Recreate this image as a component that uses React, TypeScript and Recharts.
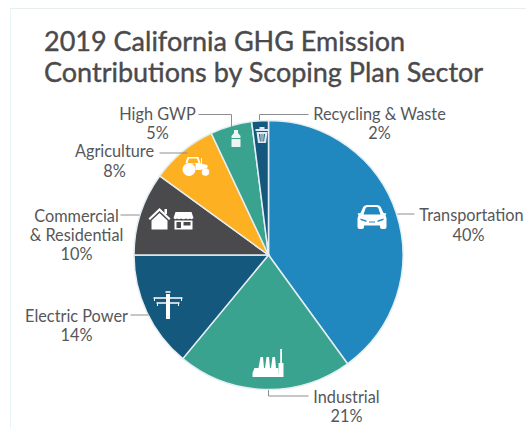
import { Pie, PieChart, Cell } from "recharts";

const sectors = [
	"Transportation",
	"Industrial",
	"Electric Power",
	"Commercial & Residential",
	"Agriculture",
	"High GWP",
	"Recycling & Waste",
];
const shares = [40, 21, 14, 10, 8, 5, 2];
const colors = [
	"#2187bf",
	"#3aa38f",
	"#14587d",
	"#4a4a4c",
	"#fdb022",
	"#3aa38f",
	"#14587d",
];
const titleLines = [
	"2019 California GHG Emission",
	"Contributions by Scoping Plan Sector",
];

const data = sectors.map((name, i) => ({ name, value: shares[i] }));

const TEXT = "#56575a";
const LEADER = "#8c8e90";

// label placement per sector, offsets from the pie centre
const callouts: Record<
	string,
	{ lines: [string, number, number][]; leader: string; pct: [number, number] }
> = {
	Transportation: {
		lines: [["Transportation", 203, -34]],
		pct: [200, -14],
		leader: "M129 -41H146",
	},
	Industrial: {
		lines: [["Industrial", 78, 148]],
		pct: [78, 167],
		leader: "M0 135V141H40",
	},
	"Electric Power": {
		lines: [["Electric Power", -192, 67]],
		pct: [-192, 86],
		leader: "M-138 60H-120",
	},
	"Commercial & Residential": {
		lines: [
			["Commercial", -192, -33],
			["& Residential", -192, -14],
		],
		pct: [-192, 5],
		leader: "M-148 -40H-129",
	},
	Agriculture: {
		lines: [["Agriculture", -154, -98]],
		pct: [-154, -78],
		leader: "M-109 -102H-81",
	},
	"High GWP": {
		lines: [["High GWP", -111, -135]],
		pct: [-111, -116],
		leader: "M-70 -140.500H-37V-128",
	},
	"Recycling & Waste": {
		lines: [["Recycling & Waste", 111, -135]],
		pct: [111, -116],
		leader: "M-9 -135V-140.500H40",
	},
};

function Car() {
	return (
		<g transform="translate(87 -50)" fill="#fff">
			<path
				fillRule="evenodd"
				d="M5 8 7.500 2.500Q8.500 0 12 0H21Q24.500 0 25.500 2.500L28 8 31 8.500 30 10.500 31 13V22Q31 24 29 24H26.500Q24.500 24 24.500 22V20.500H8.500V22Q8.500 24 6.500 24H4Q2 24 2 22V13L3 10.500 2 8.500ZM8 9.500H25L23 3.500Q22.500 2 21 2H12Q10.500 2 10 3.500ZM5 13.500V15L11 17V15.500ZM28 13.500 22 15.500V17L28 15ZM13.500 16.500V17.500H19.500V16.500Z"
			/>
		</g>
	);
}

function Trash() {
	return (
		<g transform="translate(-13 -128)" fill="#dfe9ef">
			<rect x="0" y="2" width="13" height="2" />
			<rect x="4" y="0" width="5" height="2" />
			<path d="M1 5H12L10.500 16H2.500ZM3.500 7 4.500 14.500H5.200L4.800 7ZM6.100 7V14.500H6.900V7ZM8.200 7 7.800 14.500H8.500L9.500 7Z" fillRule="evenodd" />
		</g>
	);
}

function Bottle() {
	return (
		<g transform="translate(-37 -125)" fill="#eef5f3">
			<path d="M2.500 0H6.500V3L9 6V8H0V6L2.500 3Z" />
			<rect x="0" y="9" width="9" height="8" rx="0.500" />
		</g>
	);
}

function Tractor() {
	return (
		<g transform="translate(-86 -98)" fill="#fff">
			<circle cx="6.500" cy="12.500" r="6.500" />
			<circle cx="23" cy="15" r="3.800" />
			<path d="M3 5.500 5 0H16L18 6.500 25 8V10.500L18 13H13V6.500H4.500Z" fillRule="evenodd" />
			<path d="M6.500 1.500H14.500L16 6H5Z" fill="#fdb022" />
			<rect x="18.500" y="1" width="1" height="6" />
		</g>
	);
}

function HouseAndStore() {
	return (
		<g fill="#fff">
			<g transform="translate(-120 -47)">
				<path d="M11 0 22 10.500 20.500 12 11 3 1.500 12 0 10.500ZM3 12.500 11 5 19 12.500V21.500H3Z" />
				<rect x="16" y="1" width="2.500" height="5" />
			</g>
			<g transform="translate(-95 -43)">
				<path d="M2 0H18L20 6Q18.500 8 16.500 6.500 14.500 8 12.500 6.500 10 8 7.500 6.500 5.500 8 3.500 6.500 1.500 8 0 6Z" />
				<path
					fillRule="evenodd"
					d="M1 8.500H19V17.500H1ZM3 10V16H7.500V10ZM10 10V13.500H17V10Z"
				/>
			</g>
		</g>
	);
}

function Pylon() {
	return (
		<g transform="translate(-115 36)" stroke="#fff" fill="none">
			<path d="M14.500 3V28" strokeWidth="4" />
			<path d="M0 7H29M3 12H26M12 1H17" strokeWidth="1.300" />
			<path d="M1 7V10M28 7V10M4 12V15M25 12V15" strokeWidth="1" />
		</g>
	);
}

function Factory() {
	return (
		<g transform="translate(-16 94)" fill="#fff">
			<path d="M0 28V24L2 19H6L8 8H10.500L11.500 19H12.500L14 8H16.500L17.500 19H18.500L20 8H22.500L23.500 19H26V25H31V28Z" />
			<rect x="26" y="14" width="5" height="11" />
			<rect x="27.700" y="0" width="1.800" height="15" />
		</g>
	);
}

const icons: Record<string, () => React.ReactNode> = {
	Transportation: Car,
	Industrial: Factory,
	"Electric Power": Pylon,
	"Commercial & Residential": HouseAndStore,
	Agriculture: Tractor,
	"High GWP": Bottle,
	"Recycling & Waste": Trash,
};

function SectorLabel(props: any) {
	const { cx, cy, name, value } = props;
	const callout = callouts[name];
	const Icon = icons[name];
	const textProps = {
		textAnchor: "middle" as const,
		fill: TEXT,
		fontSize: 16.3,
	};
	return (
		<g transform={`translate(${cx} ${cy})`}>
			<Icon />
			<path d={callout.leader} fill="none" stroke={LEADER} strokeWidth={1} />
			{callout.lines.map(([text, x, y]) => (
				<text key={text} x={x} y={y} {...textProps}>
					{text}
				</text>
			))}
			<text x={callout.pct[0]} y={callout.pct[1]} {...textProps}>
				{value}%
			</text>
		</g>
	);
}

export default function App() {
	return (
		<div
			style={{
				position: "absolute",
				left: 0,
				top: 0,
				width: 526,
				height: 428,
				overflow: "hidden",
				background: "#fff",
				fontFamily: "Lato, sans-serif",
			}}
		>
			<div
				style={{
					position: "absolute",
					left: 10,
					top: 8,
					width: 516,
					height: 420,
					borderTop: "1px solid #e9eef1",
					borderLeft: "1px solid #e6f4fa",
				}}
			/>
			<PieChart
				width={526}
				height={428}
				margin={{ top: 0, right: 0, bottom: 0, left: 0 }}
				style={{ position: "absolute", left: 0, top: 0 }}
			>
				<Pie
					data={data}
					dataKey="value"
					nameKey="name"
					cx={268.5}
					cy={255}
					outerRadius={134.5}
					startAngle={90}
					endAngle={-270}
					stroke="#e4eef2"
					strokeWidth={1.5}
					label={SectorLabel}
					labelLine={false}
					isAnimationActive={false}
				>
					{data.map((entry, i) => (
						<Cell key={entry.name} fill={colors[i]} />
					))}
				</Pie>
			</PieChart>
			{titleLines.map((line, i) => (
				<div
					key={line}
					style={{
						position: "absolute",
						left: 44,
						top: 24 + i * 31,
						fontSize: 27,
						lineHeight: "34px",
						color: "#4a4a4c",
						whiteSpace: "nowrap",
						WebkitTextStroke: "0.4px #4a4a4c",
					}}
				>
					{line}
				</div>
			))}
		</div>
	);
}
